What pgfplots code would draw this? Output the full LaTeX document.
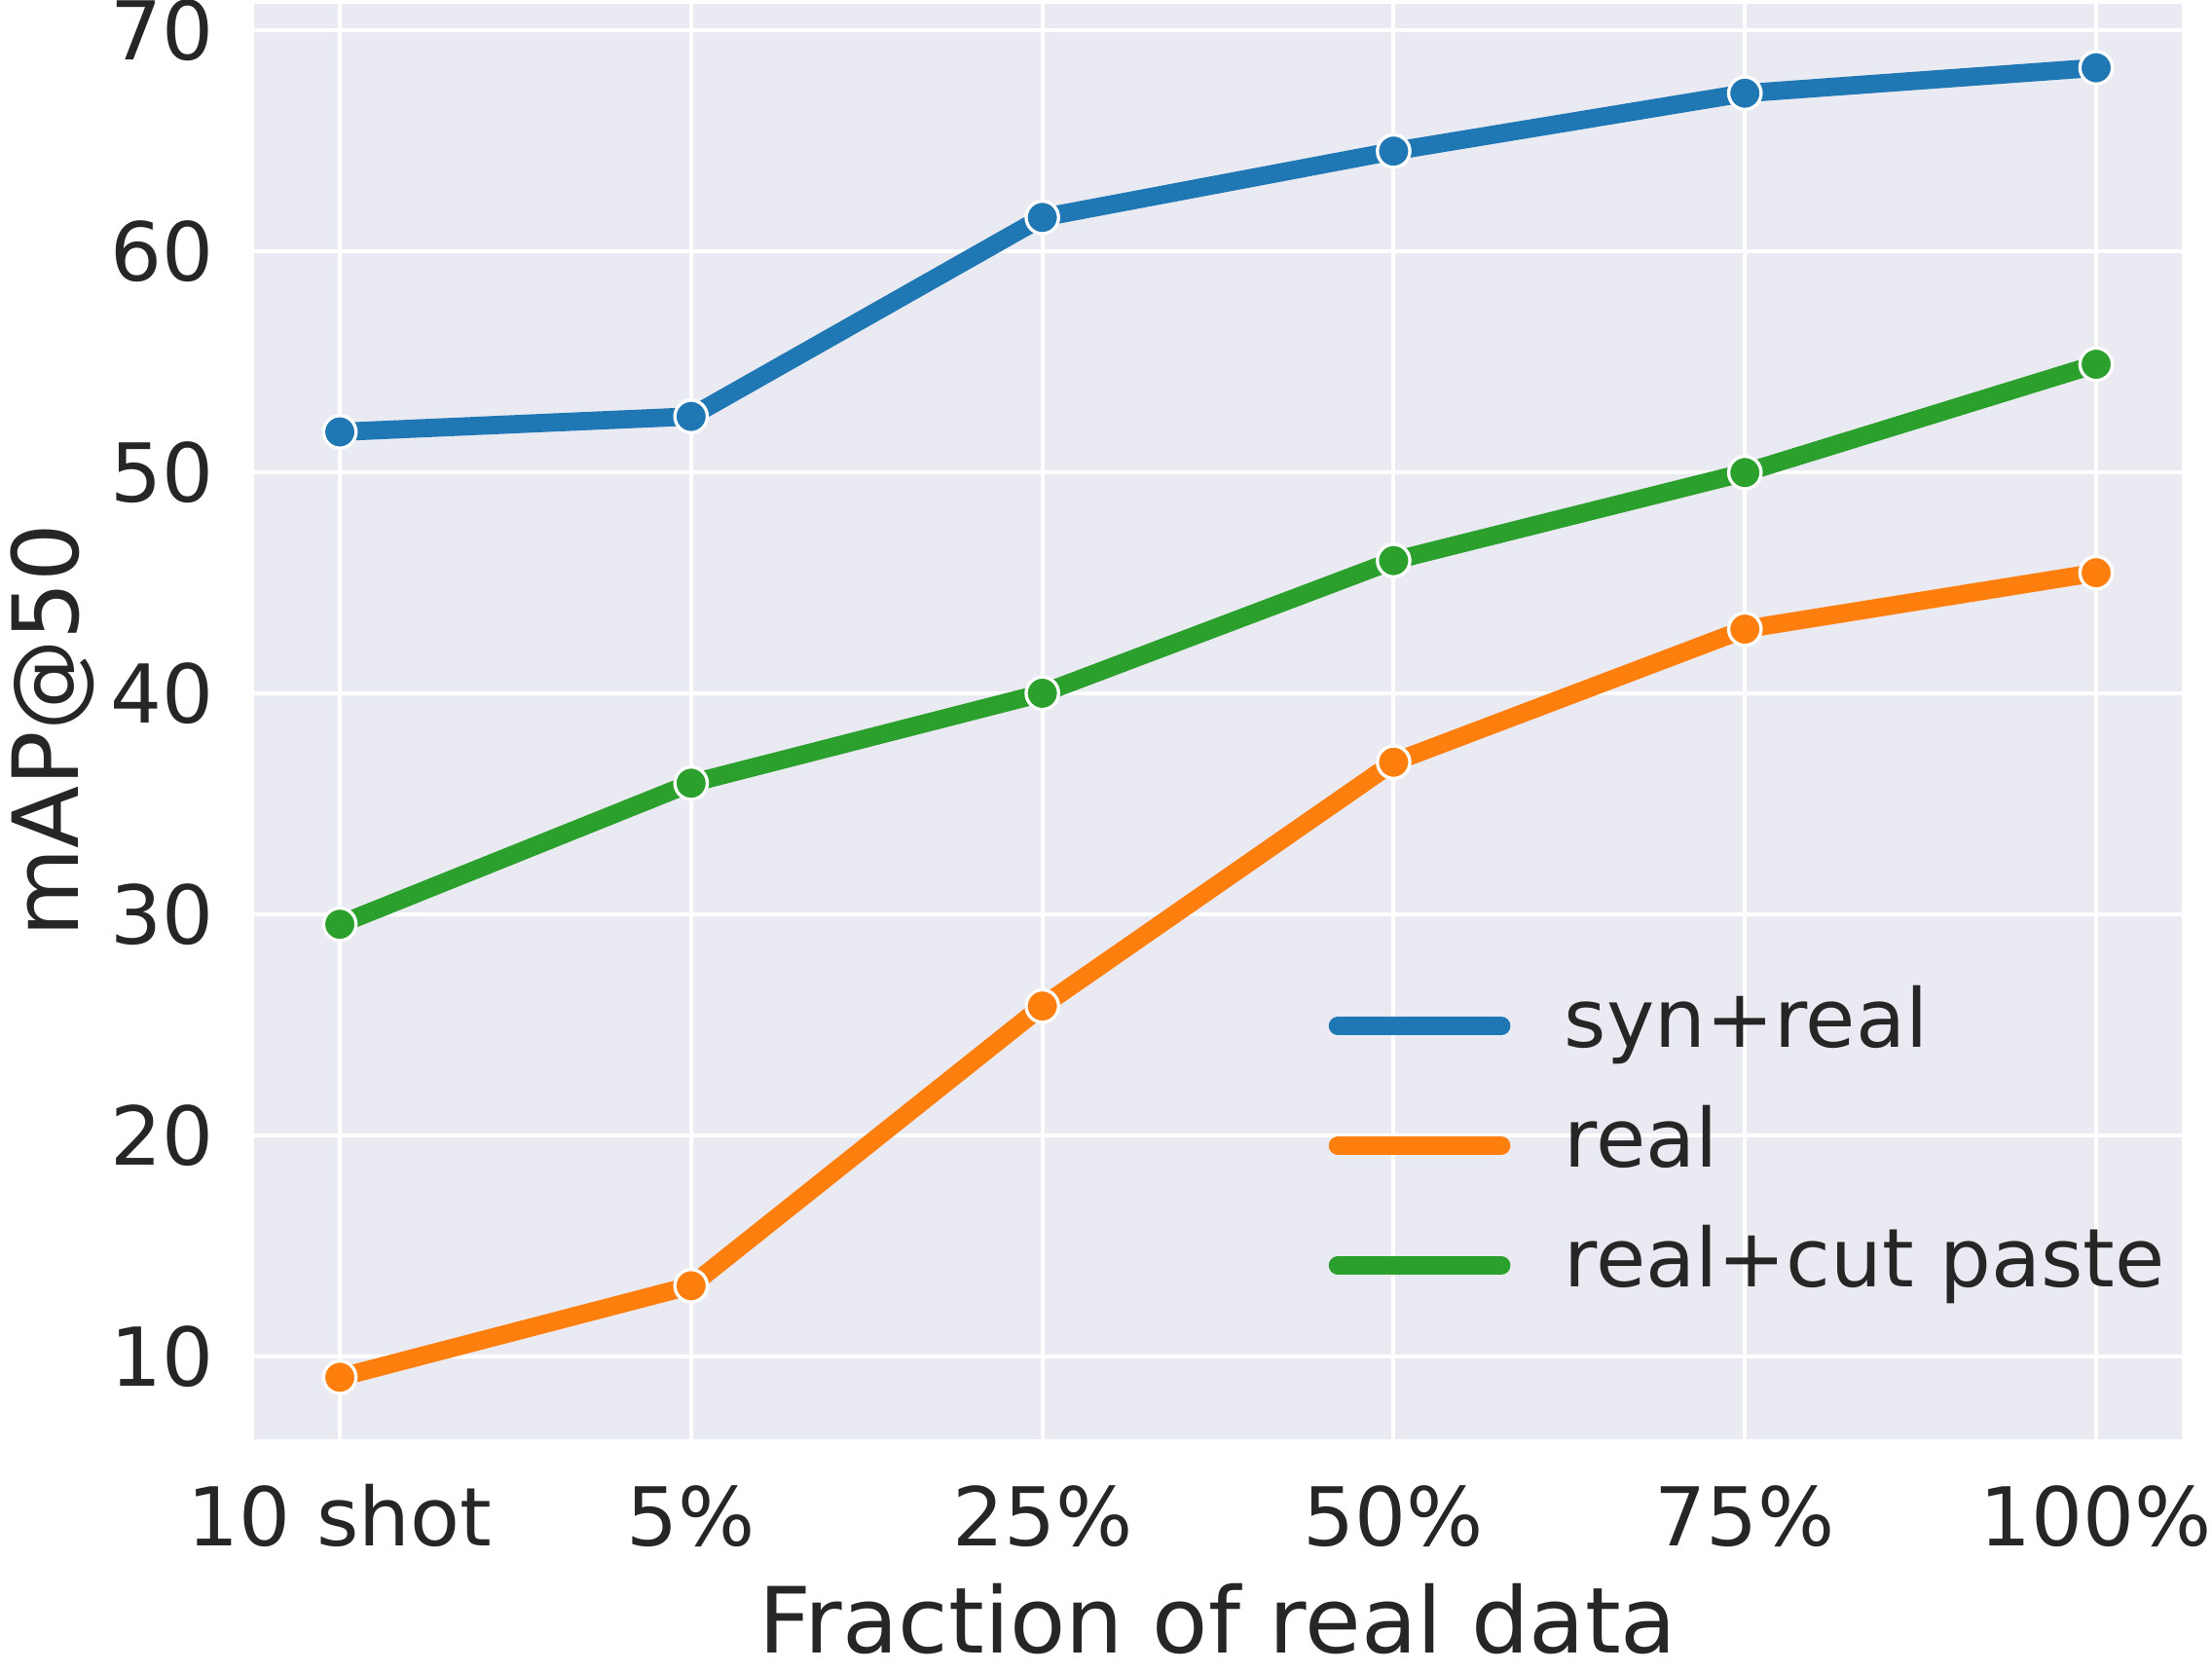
\documentclass[border=0pt]{standalone}
\usepackage{pgfplots}
\pgfplotsset{compat=1.18}
\usepackage{fontspec}
\setmainfont{DejaVu Sans}
\definecolor{bgc}{HTML}{EAEAF2}
\definecolor{txt}{HTML}{262626}
\definecolor{cblue}{HTML}{1F77B4}
\definecolor{corange}{HTML}{FF7F0E}
\definecolor{cgreen}{HTML}{2CA02C}
\pgfplotsset{
  legend image code/.code={\draw[#1,line cap=round] (0pt,0pt) -- (40.3pt,0pt);},
}
\begin{document}
\begin{tikzpicture}
\begin{axis}[
  name=ax,
  scale only axis,
  width=475.2pt, height=353.8pt,
  xmin=-0.244, xmax=5.244,
  ymin=6.25, ymax=71.18,
  xtick={0,1,2,3,4,5},
  xticklabels={10 shot,5\%,25\%,50\%,75\%,100\%},
  ytick={10,20,30,40,50,60,70},
  /pgf/number format/assume math mode=true,
  axis background/.style={fill=bgc},
  axis line style={draw=none},
  tick style={draw=none},
  grid=major,
  major grid style={white, line width=0.95pt},
  ticklabel style={font=\fontsize{20}{24}\selectfont, text=txt, inner sep=0pt},
  yticklabel style={anchor=east, xshift=-9.7pt},
  xticklabel style={anchor=base, yshift=-26.2pt},
  xlabel={Fraction of real data},
  ylabel={mAP@50},
  label style={font=\fontsize{22.5}{27}\selectfont, text=txt, inner sep=0pt},
  xlabel style={at={([yshift=-52.56pt]rel axis cs:0.5,0)}, anchor=base},
  ylabel style={at={([xshift=-43.4pt,yshift=-2.2pt]rel axis cs:0,0.5)}, anchor=base},
  legend style={draw=none, fill=none, at={(rel axis cs:0.5507,0.3225)}, anchor=north west,
    font=\fontsize{20}{24}\selectfont, text=txt, row sep=9.5pt, column sep=13.3pt,
    nodes={inner sep=0pt, text height=15.2pt, text depth=4.8pt}},
  legend cell align=left,
  every axis plot/.append style={line width=4.5pt, mark=*, mark size=4pt},
]
\addplot[cblue, mark options={fill=cblue, draw=white, line width=0.8pt}] coordinates {
 (0,51.82) (1,52.52) (2,61.52) (3,64.52) (4,67.14) (5,68.29)};
\addlegendentry{syn+real}
\addplot[corange, mark options={fill=corange, draw=white, line width=0.8pt}] coordinates {
 (0,9.06) (1,13.2) (2,25.85) (3,36.88) (4,42.9) (5,45.45)};
\addlegendentry{real}
\addplot[cgreen, mark options={fill=cgreen, draw=white, line width=0.8pt}] coordinates {
 (0,29.55) (1,35.93) (2,40.0) (3,46.0) (4,49.98) (5,54.88)};
\addlegendentry{real+cut paste}
\end{axis}
\pgfresetboundingbox
\path ([xshift=-62.64pt,yshift=-56.88pt]ax.south west) rectangle ([xshift=7.44pt,yshift=0.96pt]ax.north east);
\end{tikzpicture}
\end{document}
